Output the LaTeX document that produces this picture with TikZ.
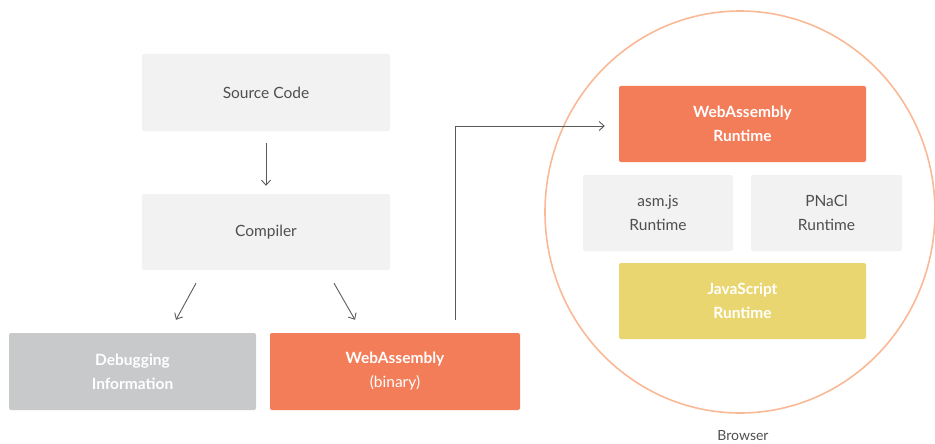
\documentclass[tikz,border=0pt]{standalone}
\usepackage{fontspec}
\setmainfont{Lato}
\usetikzlibrary{arrows.meta,shapes.geometric}
\definecolor{lightbox}{HTML}{F2F2F2}
\definecolor{greybox}{HTML}{C8C9CB}
\definecolor{orangebox}{HTML}{F37C59}
\definecolor{yellowbox}{HTML}{EAD670}
\definecolor{ringcol}{HTML}{F9B896}
\definecolor{arrcol}{HTML}{5A5A5A}
\definecolor{txtcol}{HTML}{4F4F4F}
\tikzset{
  box/.style={rectangle, rounded corners=2pt, inner sep=0pt, align=center,
    font=\fontsize{15.5}{24}\selectfont},
  lightb/.style={box, fill=lightbox, text=txtcol},
  boldb/.style={box, text=white, font=\fontsize{15.5}{24}\selectfont\bfseries},
  arr/.style={draw=arrcol, line width=0.9pt, -{Straight Barb[length=5pt,width=9pt]}},
}
\begin{document}
\begin{tikzpicture}[x=1pt,y=-1pt]
\useasboundingbox (0,0) rectangle (935,444);
\node[ellipse, draw=ringcol, line width=1.6pt, minimum width=390, minimum height=402, inner sep=0pt] (ring) at (740,212) {};
\node[lightb, minimum width=248, minimum height=77] (src) at (266,92.5) {Source Code};
\node[lightb, minimum width=248, minimum height=76] (comp) at (266,232) {Compiler};
\node[boldb, fill=greybox, minimum width=247, minimum height=77] (dbg) at (132.5,371.5) {Debugging\\Information};
\node[boldb, fill=orangebox, minimum width=250, minimum height=77] (wasm) at (395,371.5) {WebAssembly\\\mdseries(binary)};
\node[boldb, fill=orangebox, minimum width=247, minimum height=76] (wrt) at (742.5,124) {WebAssembly\\Runtime};
\node[lightb, minimum width=150, minimum height=76] (asm) at (658,213) {asm.js\\Runtime};
\node[lightb, minimum width=151, minimum height=76] (pnacl) at (826.5,213) {PNaCl\\Runtime};
\node[boldb, fill=yellowbox, minimum width=247, minimum height=76] (js) at (742.5,301) {JavaScript\\Runtime};
\node[text=txtcol, font=\fontsize{14}{16}\selectfont] (blabel) at (743,436) {Browser};
\draw[arr] ([yshift=-12pt]src.south) -- ([yshift=8pt]comp.north);
\draw[arr] ([xshift=-70pt,yshift=-13pt]comp.south) -- ([xshift=43.5pt,yshift=13pt]dbg.north);
\draw[arr] ([xshift=68pt,yshift=-13pt]comp.south) -- ([xshift=-40pt,yshift=13pt]wasm.north);
\draw[arr] ([xshift=60pt,yshift=13pt]wasm.north) |- ([xshift=-14pt,yshift=-2pt]wrt.west);
\end{tikzpicture}
\end{document}
